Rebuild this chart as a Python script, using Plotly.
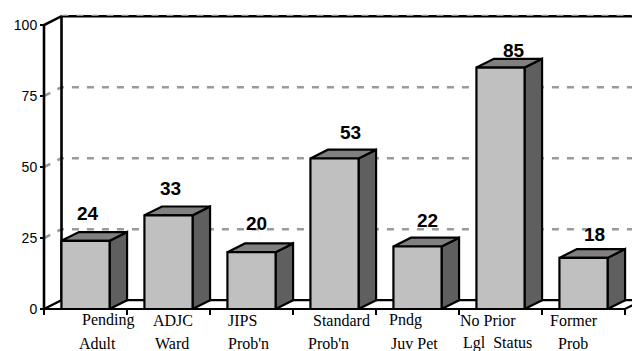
import plotly.graph_objects as go

# ---- data ----
labels_line1 = ["Pending", "ADJC", "JIPS", "Standard", "Pndg", "No Prior", "Former"]
labels_line2 = ["Adult", "Ward", "Prob'n", "Prob'n", "Juv Pet", "Lgl\u00a0\u00a0Status", "Prob"]
values = [24, 33, 20, 53, 22, 85, 18]
y_ticks = [0, 25, 50, 75, 100]

# ---- geometry / style (pixels) ----
W, H = 632, 351
PX_CAT = 83.0      # pixels per category
PX_UNIT = 2.84     # pixels per value unit
X0_PX = 44         # pixel x of left edge of first category
Y0_PX = 309        # pixel y of value 0

x_range = [-0.5 - X0_PX / PX_CAT, -0.5 + (W - X0_PX) / PX_CAT]
y_range = [-(H - Y0_PX) / PX_UNIT, Y0_PX / PX_UNIT]

DX = 17.5 / PX_CAT     # depth offset in category units
DY = 8.8 / PX_UNIT     # depth offset in value units
HALF = 0.29
n = len(values)
xl, xr = -0.5, n - 0.5
far = x_range[1] + 1
top = max(y_ticks)

# label offsets (pixels) relative to bar front-top centre
val_dx = [2.5, 2, 5, 16, 10, 13.5, 10.5]
val_dy = [27, 26.6, 28.4, 26.3, 25.7, 17.5, 23]
lab1_dx = [22.5, 4.5, -9.5, 7, -12.5, -12.5, -9.5]
lab2_dx = [11.5, 3, -3.5, -6.5, -3.5, -3.5, -10.5]

fig = go.Figure()

def poly(xs, ys, fill, width=2.2, color="black", dash=None, mode="lines"):
    line = dict(color=color, width=width)
    if dash:
        line["dash"] = dash
    fig.add_trace(go.Scatter(x=xs, y=ys, mode=mode, fill="toself" if fill else None,
                             fillcolor=fill, line=line, hoverinfo="skip",
                             showlegend=False))

# floor
poly([xl, xr, xr + DX, xl + DX, xl], [0, 0, DY, DY, 0], "white")

# gridlines on back/left wall
gx, gy = [], []
for v in y_ticks[1:-1]:
    gx += [xl, xl + DX, far, None]
    gy += [v, v + DY, v + DY, None]
poly(gx, gy, None, width=2.6, color="#9a9a9a", dash="7px,8px")

# walls
poly([xl, xl, xl + DX, far], [0, top, top + DY, top + DY], None, width=2.6)
poly([xl + DX, xl + DX], [DY, top + DY], None, width=2.6)
poly([xl + DX, far], [top + DY + 0.3, top + DY + 0.3], None, width=1.2,
     color="#8a8a8a", dash="7px,8px")

# bars
fx, fy, tx, ty, sx, sy = [], [], [], [], [], []
for i, v in enumerate(values):
    a, b = i - HALF, i + HALF
    fx += [a, b, b, a, a, None]
    fy += [0, 0, v, v, 0, None]
    tx += [a, b, b + DX, a + DX, a, None]
    ty += [v, v, v + DY, v + DY, v, None]
    sx += [b, b + DX, b + DX, b, b, None]
    sy += [0, DY, v + DY, v, 0, None]
poly(sx, sy, "#5f5f5f")
poly(tx, ty, "#808080")
poly(fx, fy, "#c0c0c0")

# value labels
for i, v in enumerate(values):
    fig.add_annotation(x=i, y=v, xref="x", yref="y", text=str(v), showarrow=False,
                       xshift=val_dx[i], yshift=val_dy[i], xanchor="center", yanchor="middle",
                       font=dict(family="Liberation Sans, Arial", size=19, color="black", weight=700))

# category labels (two lines)
for i in range(n):
    fig.add_annotation(x=i, y=0, xref="x", yref="y", text=labels_line1[i], showarrow=False,
                       xshift=lab1_dx[i], yshift=-11, xanchor="center", yanchor="middle",
                       font=dict(family="Liberation Serif, Times New Roman", size=16, color="black"))
    fig.add_annotation(x=i, y=0, xref="x", yref="y", text=labels_line2[i], showarrow=False,
                       xshift=lab2_dx[i], yshift=-34, xanchor="center", yanchor="middle",
                       font=dict(family="Liberation Serif, Times New Roman", size=16, color="black"))

fig.update_layout(
    width=W, height=H, margin=dict(l=0, r=0, t=0, b=0),
    paper_bgcolor="white", plot_bgcolor="white", showlegend=False,
    xaxis=dict(range=x_range, showgrid=False, zeroline=False, showline=False,
               tickvals=[k - 0.5 for k in range(n + 1)], ticktext=[""] * (n + 1),
               ticks="outside", ticklen=5, tickwidth=2, tickcolor="black",
               anchor="free", position=(H - Y0_PX) / H),
    yaxis=dict(range=y_range, showgrid=False, zeroline=False, showline=False,
               tickvals=y_ticks, ticktext=[str(t) for t in y_ticks],
               ticks="outside", ticklen=4, tickwidth=2, tickcolor="black",
               tickfont=dict(family="Liberation Sans, Arial", size=14, color="black"),
               anchor="free", position=X0_PX / W),
)

fig.write_html("out.html", config={"displayModeBar": False, "staticPlot": True},
               post_script="document.body.style.margin='0';document.body.style.overflow='hidden';")
